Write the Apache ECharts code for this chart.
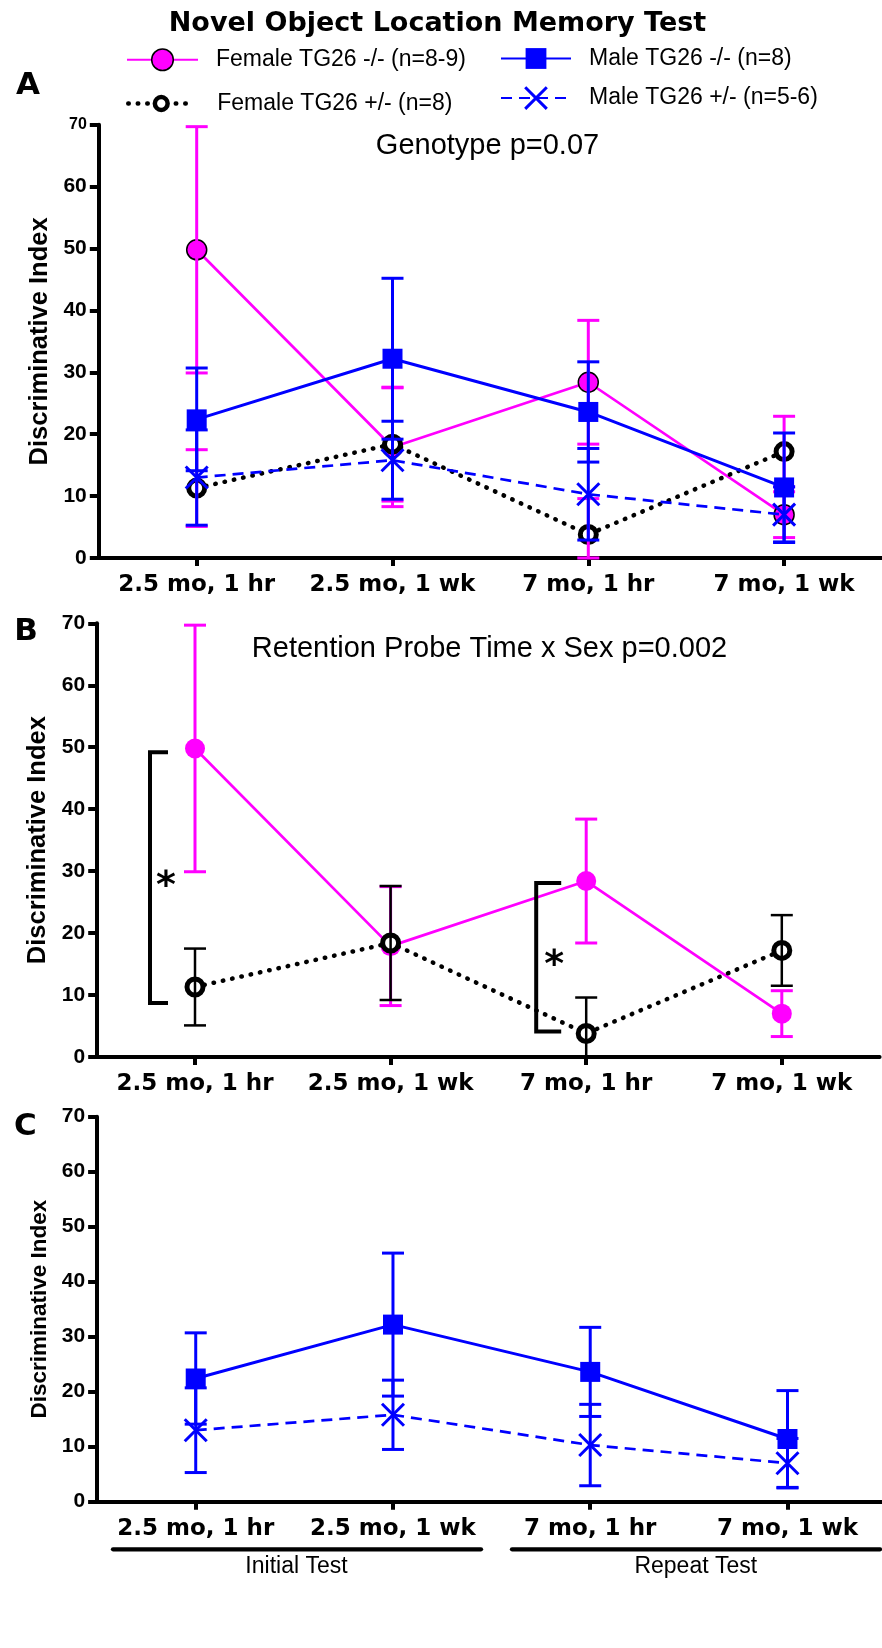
<!DOCTYPE html>
<html>
<head>
<meta charset="utf-8">
<script src="https://cdn.jsdelivr.net/npm/echarts@6/dist/echarts.min.js"></script>
<style>
html,body{margin:0;padding:0;background:#ffffff;}
#chart{width:882px;height:1648px;}
</style>
</head>
<body>
<div id="chart"></div>
<script>
// ---------------- data ----------------
const categories = ['2.5 mo, 1 hr', '2.5 mo, 1 wk', '7 mo, 1 hr', '7 mo, 1 wk'];
const yMin = 0, yMax = 70, yStep = 10;

const nameFemaleKO = 'Female TG26 -/- (n=8-9)';
const nameMaleKO = 'Male TG26 -/- (n=8)';
const nameFemaleHet = 'Female TG26 +/- (n=8)';
const nameMaleHet = 'Male TG26 +/- (n=5-6)';

const femaleKOMean = [49.8, 17.9, 28.4, 7.0];
const femaleKOSem  = [19.9, 9.6, 10.0, 3.7];
const femaleHetMean = [11.3, 18.4, 3.8, 17.2];
const femaleHetSem  = [6.2, 9.2, 5.8, 5.7];
const maleKOMean = [22.4, 32.2, 23.6, 11.4];
const maleKOSem  = [8.3, 13.0, 8.1, 8.8];
const maleHetMean = [13.0, 15.8, 10.3, 7.0];
const maleHetSem  = [7.7, 6.3, 7.4, 4.5];

const chartTitle = 'Novel Object Location Memory Test';
const panelLetters = ['A', 'B', 'C'];
const annotationA = 'Genotype p=0.07';
const annotationB = 'Retention Probe Time x Sex p=0.002';
const yAxisName = 'Discriminative Index';
// significance brackets in panel B: [category index, lower value, upper value]
const bracketSpans = [[0, 8.7, 49.2], [2, 4.1, 28.1]];
const bracketMark = '*';
const groupLabels = ['Initial Test', 'Repeat Test'];

// ---------------- styling ----------------
const MAGENTA = '#ff00ff';
const BLUE = '#0000ff';
const BLACK = '#000000';
const X_PATH = 'path://M0,0L24,24M24,0L0,24';
const bracketLayout = [{dx: -45, arm: 18, starDx: 16}, {dx: -50, arm: 25, starDx: 18}];

function errData(mean, sem) {
  return mean.map((m, i) => [i, Math.max(0, m - sem[i]), m + sem[i]]);
}

function errRender(color, lw, capHalf) {
  return function (params, api) {
    const c = api.value(0);
    const lo = api.coord([c, api.value(1)]);
    const hi = api.coord([c, api.value(2)]);
    const st = {stroke: color, lineWidth: lw};
    return {
      type: 'group',
      children: [
        {type: 'line', shape: {x1: lo[0], y1: lo[1], x2: hi[0], y2: hi[1]}, style: st},
        {type: 'line', shape: {x1: hi[0] - capHalf, y1: hi[1], x2: hi[0] + capHalf, y2: hi[1]}, style: st},
        {type: 'line', shape: {x1: lo[0] - capHalf, y1: lo[1], x2: lo[0] + capHalf, y2: lo[1]}, style: st}
      ]
    };
  };
}

function bracketRender(params, api) {
  const L = bracketLayout[params.dataIndex];
  const c = api.value(0);
  const lo = api.coord([c, api.value(1)]);
  const hi = api.coord([c, api.value(2)]);
  const x = lo[0] + L.dx;
  return {
    type: 'group',
    children: [
      {type: 'polyline', shape: {points: [[x + L.arm, hi[1]], [x, hi[1]], [x, lo[1]], [x + L.arm, lo[1]]]},
       style: {stroke: BLACK, lineWidth: 4, fill: null, lineJoin: 'miter'}},
      {type: 'text', x: x + L.starDx, y: (hi[1] + lo[1]) / 2 + 9,
       style: {text: bracketMark, fill: BLACK, fontFamily: 'DejaVu Sans', fontWeight: 'bold', fontSize: 38,
               align: 'center', verticalAlign: 'middle'}}
    ]
  };
}

const gridDefs = [
  {left: 98.8, top: 124.8, width: 783.2, height: 433.2},
  {left: 97.2, top: 623.3, width: 782.4, height: 433.7},
  {left: 97.1, top: 1116.7, width: 789, height: 385}
];

function xAxisDef(i) {
  return {
    type: 'category', gridIndex: i, data: categories, boundaryGap: true,
    axisLine: {show: true, lineStyle: {color: BLACK, width: 4}},
    axisTick: {show: true, alignWithLabel: true, interval: 0, length: 8, lineStyle: {color: BLACK, width: 4}},
    axisLabel: {show: true, interval: 0, margin: 16, color: BLACK, fontFamily: 'DejaVu Sans', fontWeight: 'bold', fontSize: 23},
    splitLine: {show: false}
  };
}

function yAxisDef(i, nameSize) {
  const lab = {margin: 12, color: BLACK, fontFamily: 'Liberation Sans', fontWeight: 'bold', fontSize: 21};
  if (i === 0) {
    lab.formatter = v => (v === yMax ? '{s|' + v + '}' : String(v));
    lab.rich = {s: {fontSize: 16, fontWeight: 'bold', fontFamily: 'Liberation Sans', color: BLACK}};
  }
  return {
    type: 'value', gridIndex: i, min: yMin, max: yMax, interval: yStep,
    axisLine: {show: true, lineStyle: {color: BLACK, width: 4}},
    axisTick: {show: true, length: 9, lineStyle: {color: BLACK, width: 4}},
    axisLabel: lab,
    splitLine: {show: false},
    name: yAxisName, nameLocation: 'middle', nameRotate: 90, nameGap: 42,
    nameTextStyle: {color: BLACK, fontFamily: 'Liberation Sans', fontWeight: 'bold', fontSize: nameSize}
  };
}

function lineFemaleKO(g, withBorder, z) {
  return {type: 'line', name: nameFemaleKO, xAxisIndex: g, yAxisIndex: g, data: femaleKOMean, z: z,
    symbol: 'circle', symbolSize: 20, showAllSymbol: true,
    itemStyle: {color: MAGENTA, borderColor: withBorder ? BLACK : MAGENTA, borderWidth: withBorder ? 1.5 : 0},
    lineStyle: {color: MAGENTA, width: 2.7}, emphasis: {disabled: true}, silent: true};
}
function lineFemaleHet(g, z) {
  return {type: 'line', name: nameFemaleHet, xAxisIndex: g, yAxisIndex: g, data: femaleHetMean, z: z,
    symbol: 'circle', symbolSize: 16, showAllSymbol: true,
    itemStyle: {color: '#ffffff', borderColor: BLACK, borderWidth: 5},
    lineStyle: {color: BLACK, width: 4.5, type: [0.5, 9], cap: 'round'}, emphasis: {disabled: true}, silent: true};
}
function lineMaleKO(g, z) {
  return {type: 'line', name: nameMaleKO, xAxisIndex: g, yAxisIndex: g, data: maleKOMean, z: z,
    symbol: 'rect', symbolSize: 20, showAllSymbol: true,
    itemStyle: {color: BLUE, borderColor: BLUE, borderWidth: 0},
    lineStyle: {color: BLUE, width: 3}, emphasis: {disabled: true}, silent: true};
}
function lineMaleHet(g, z) {
  return {type: 'line', name: nameMaleHet, xAxisIndex: g, yAxisIndex: g, data: maleHetMean, z: z,
    symbol: X_PATH, symbolSize: 22, showAllSymbol: true,
    itemStyle: {color: BLUE, borderColor: BLUE, borderWidth: 3},
    lineStyle: {color: BLUE, width: 2.7, type: [11, 7]}, emphasis: {disabled: true}, silent: true};
}
function errSeries(g, mean, sem, color, lw, z) {
  return {type: 'custom', xAxisIndex: g, yAxisIndex: g, coordinateSystem: 'cartesian2d',
    data: errData(mean, sem), encode: {x: 0, y: [1, 2]}, renderItem: errRender(color, lw, 11),
    z: z, silent: true, clip: false};
}

const series = [
  // Panel A
  lineFemaleKO(0, true, 2),
  errSeries(0, femaleKOMean, femaleKOSem, MAGENTA, 3, 3),
  lineFemaleHet(0, 4),
  errSeries(0, femaleHetMean, femaleHetSem, MAGENTA, 3, 5),
  lineMaleKO(0, 6),
  errSeries(0, maleKOMean, maleKOSem, BLUE, 3, 7),
  lineMaleHet(0, 8),
  errSeries(0, maleHetMean, maleHetSem, BLUE, 3, 9),
  // Panel B
  lineFemaleKO(1, false, 2),
  errSeries(1, femaleKOMean, femaleKOSem, MAGENTA, 3, 3),
  lineFemaleHet(1, 4),
  errSeries(1, femaleHetMean, femaleHetSem, BLACK, 2.5, 5),
  {type: 'custom', xAxisIndex: 1, yAxisIndex: 1, coordinateSystem: 'cartesian2d',
   data: bracketSpans, encode: {x: 0, y: [1, 2]}, renderItem: bracketRender, z: 10, silent: true, clip: false},
  // Panel C
  lineMaleKO(2, 6),
  errSeries(2, maleKOMean, maleKOSem, BLUE, 3, 7),
  lineMaleHet(2, 8),
  errSeries(2, maleHetMean, maleHetSem, BLUE, 3, 9)
];

const legendText = {fontFamily: 'Liberation Sans', fontSize: 23, color: BLACK};
function legendDef(name, left, centerY, w, h, padLeft, extraLine, extraItem) {
  const d = {
    data: [name], left: left, top: centerY - h / 2, padding: 0, itemWidth: w, itemHeight: h,
    orient: 'horizontal', selectedMode: false,
    textStyle: Object.assign({padding: [0, 0, 0, padLeft]}, legendText),
    lineStyle: extraLine || {}
  };
  if (extraItem) d.itemStyle = extraItem;
  return d;
}

const textStyleBase = {fill: BLACK, align: 'center', verticalAlign: 'middle'};
const graphics = [
  {type: 'text', x: 437.5, y: 24, style: Object.assign({text: chartTitle, fontFamily: 'DejaVu Sans', fontWeight: 'bold', fontSize: 27}, textStyleBase)},
  {type: 'text', x: 28, y: 86, style: Object.assign({text: panelLetters[0], fontFamily: 'DejaVu Sans', fontWeight: 'bold', fontSize: 31}, textStyleBase)},
  {type: 'text', x: 26, y: 632, style: Object.assign({text: panelLetters[1], fontFamily: 'DejaVu Sans', fontWeight: 'bold', fontSize: 31}, textStyleBase)},
  {type: 'text', x: 25.5, y: 1127, style: Object.assign({text: panelLetters[2], fontFamily: 'DejaVu Sans', fontWeight: 'bold', fontSize: 31}, textStyleBase)},
  {type: 'text', x: 487.5, y: 146, style: Object.assign({text: annotationA, fontFamily: 'Liberation Sans', fontSize: 29}, textStyleBase)},
  {type: 'text', x: 489.5, y: 649, style: Object.assign({text: annotationB, fontFamily: 'Liberation Sans', fontSize: 29}, textStyleBase)},
  {type: 'line', shape: {x1: 113, y1: 1549.3, x2: 481, y2: 1549.3}, style: {stroke: BLACK, lineWidth: 4.3, lineCap: 'round'}},
  {type: 'line', shape: {x1: 512, y1: 1549.3, x2: 880, y2: 1549.3}, style: {stroke: BLACK, lineWidth: 4.3, lineCap: 'round'}},
  {type: 'text', x: 296.5, y: 1567, style: Object.assign({text: groupLabels[0], fontFamily: 'Liberation Sans', fontSize: 23}, textStyleBase)},
  {type: 'text', x: 695.8, y: 1567, style: Object.assign({text: groupLabels[1], fontFamily: 'Liberation Sans', fontSize: 23}, textStyleBase)}
];

const chart = echarts.init(document.getElementById('chart'), null, {renderer: 'canvas'});
chart.setOption({
  animation: false,
  backgroundColor: '#ffffff',
  grid: gridDefs.map(g => Object.assign({containLabel: false, outerBoundsMode: 'none'}, g)),
  xAxis: [xAxisDef(0), xAxisDef(1), xAxisDef(2)],
  yAxis: [yAxisDef(0, 25.5), yAxisDef(1, 25.5), yAxisDef(2, 22.5)],
  legend: [
    legendDef(nameFemaleKO, 126, 61.7, 71, 27, 13, null, {color: MAGENTA, borderColor: BLACK, borderWidth: 1.5}),
    legendDef(nameMaleKO, 500, 60, 70, 26, 13),
    legendDef(nameFemaleHet, 126, 100, 66, 16, 18, {cap: 'round', width: 4.5, type: [0.5, 9], color: BLACK},
              {color: '#ffffff', borderColor: BLACK, borderWidth: 4.5}),
    legendDef(nameMaleHet, 500, 99.3, 70, 27, 13, null, {color: BLUE, borderColor: BLUE, borderWidth: 3})
  ],
  graphic: graphics,
  series: series
});
</script>
</body>
</html>
